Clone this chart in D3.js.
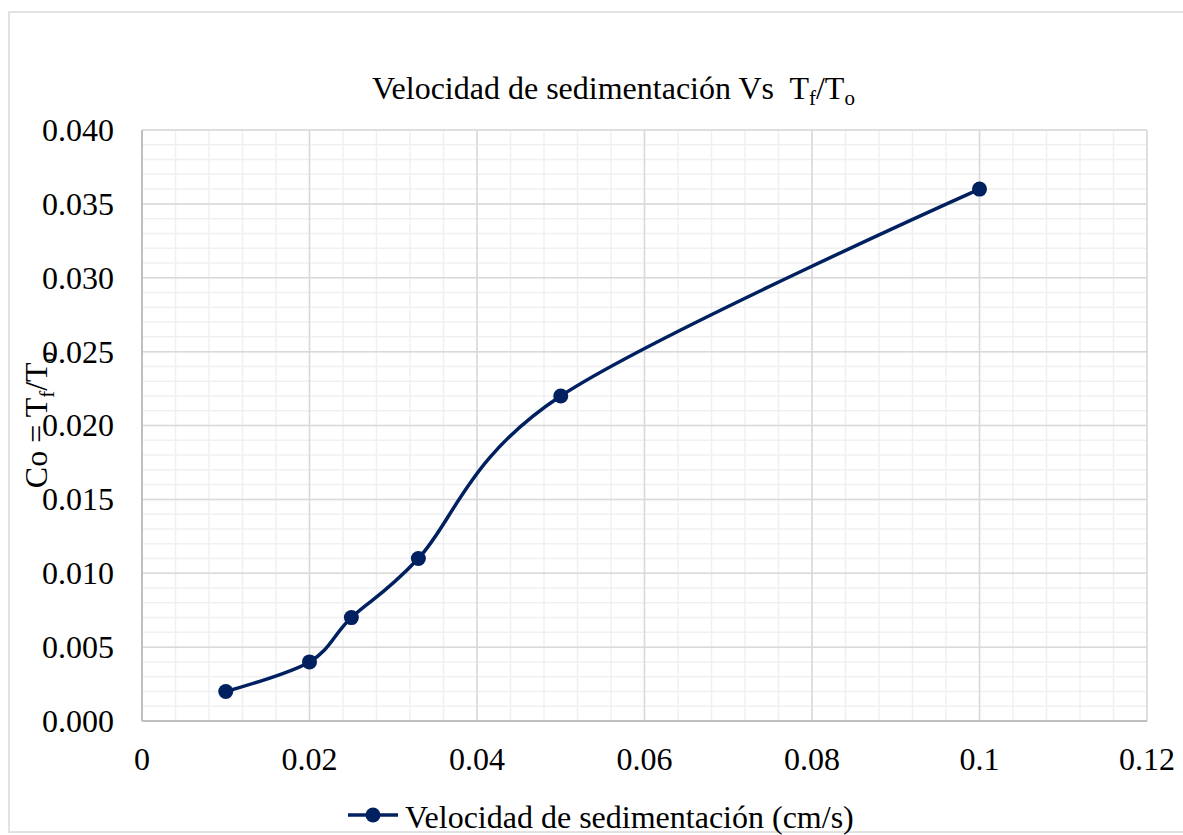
<!DOCTYPE html>
<meta charset="utf-8">
<script src="https://d3js.org/d3.v7.min.js"></script>
<style>
body { margin: 0; background: #fff; }
</style>
<div id="my_dataviz"></div>
<script>

// data
var velocidad = [0.01, 0.02, 0.025, 0.033, 0.05, 0.1];   // cm/s
var co = [0.002, 0.004, 0.007, 0.011, 0.022, 0.036];     // Tf/To
var xTicks = [0, 0.02, 0.04, 0.06, 0.08, 0.1, 0.12];
var xTickLabels = ["0", "0.02", "0.04", "0.06", "0.08", "0.1", "0.12"];
var yTicks = [0, 0.005, 0.01, 0.015, 0.02, 0.025, 0.03, 0.035, 0.04];
var yTickLabels = ["0.000", "0.005", "0.010", "0.015", "0.020", "0.025", "0.030", "0.035", "0.040"];
var seriesName = "Velocidad de sedimentación (cm/s)";

var W = 1183, H = 835;
var margin = {top: 130, right: 36, bottom: 114, left: 142},
    width = W - margin.left - margin.right,
    height = H - margin.top - margin.bottom;

var lineColor = "#002060";
var serif = "'Liberation Serif', 'Times New Roman', 'DejaVu Serif', serif";

var root = d3.select("#my_dataviz")
  .append("svg")
    .attr("width", W)
    .attr("height", H)
    .style("font-family", serif);

// chart border
root.append("rect")
  .attr("x", 9).attr("y", 12)
  .attr("width", W + 10).attr("height", 820)
  .attr("fill", "none")
  .attr("stroke", "#d9d9d9")
  .attr("stroke-width", 1.5);

var svg = root.append("g")
  .attr("transform", "translate(" + margin.left + "," + margin.top + ")");

var x = d3.scaleLinear().domain([0, 0.12]).range([0, width]);
var y = d3.scaleLinear().domain([0, 0.04]).range([height, 0]);

// minor grid
var xMinor = d3.range(0, 31).map(function(i) { return i * 0.004; });
var yMinor = d3.range(0, 41).map(function(i) { return i * 0.001; });

svg.append("g").selectAll("line")
  .data(xMinor).enter().append("line")
    .attr("x1", function(d) { return x(d); }).attr("x2", function(d) { return x(d); })
    .attr("y1", 0).attr("y2", height)
    .attr("stroke", "#f0f0f0").attr("stroke-width", 1.5);

svg.append("g").selectAll("line")
  .data(yMinor).enter().append("line")
    .attr("y1", function(d) { return y(d); }).attr("y2", function(d) { return y(d); })
    .attr("x1", 0).attr("x2", width)
    .attr("stroke", "#f0f0f0").attr("stroke-width", 1.5);

// major grid
svg.append("g").selectAll("line")
  .data(xTicks).enter().append("line")
    .attr("x1", function(d) { return x(d); }).attr("x2", function(d) { return x(d); })
    .attr("y1", 0).attr("y2", height)
    .attr("stroke", "#d9d9d9").attr("stroke-width", 1.5);

svg.append("g").selectAll("line")
  .data(yTicks).enter().append("line")
    .attr("y1", function(d) { return y(d); }).attr("y2", function(d) { return y(d); })
    .attr("x1", 0).attr("x2", width)
    .attr("stroke", "#d9d9d9").attr("stroke-width", 1.5);

// axes lines
svg.append("line")
  .attr("x1", 0).attr("x2", width).attr("y1", height).attr("y2", height)
  .attr("stroke", "#bfbfbf").attr("stroke-width", 2);
svg.append("line")
  .attr("x1", 0).attr("x2", 0).attr("y1", 0).attr("y2", height)
  .attr("stroke", "#bfbfbf").attr("stroke-width", 2);

// tick labels
svg.append("g").selectAll("text")
  .data(xTicks).enter().append("text")
    .attr("x", function(d) { return x(d); })
    .attr("y", height + 49)
    .attr("text-anchor", "middle")
    .style("font-size", "32px")
    .text(function(d, i) { return xTickLabels[i]; });

svg.append("g").selectAll("text")
  .data(yTicks).enter().append("text")
    .attr("x", -28)
    .attr("y", function(d) { return y(d); })
    .attr("dy", "0.34em")
    .attr("text-anchor", "end")
    .style("font-size", "32px")
    .text(function(d, i) { return yTickLabels[i]; });

// the series
var data = velocidad.map(function(v, i) { return {x: v, y: co[i]}; });

svg.append("path")
  .datum(data)
  .attr("fill", "none")
  .attr("stroke", lineColor)
  .attr("stroke-width", 3.5)
  .attr("stroke-linejoin", "round")
  .attr("d", d3.line()
    .curve(d3.curveCardinal.tension(0))
    .x(function(d) { return x(d.x); })
    .y(function(d) { return y(d.y); }));

svg.append("g").selectAll("circle")
  .data(data).enter().append("circle")
    .attr("cx", function(d) { return x(d.x); })
    .attr("cy", function(d) { return y(d.y); })
    .attr("r", 7.5)
    .attr("fill", lineColor);

// title
var title = root.append("text")
  .attr("x", 372).attr("y", 99)
  .style("font-size", "32px");
title.append("tspan").text("Velocidad de sedimentación Vs\u00a0 T");
title.append("tspan").attr("dy", 6).style("font-size", "21px").text("f");
title.append("tspan").attr("dy", -6).text("/T");
title.append("tspan").attr("dy", 6).style("font-size", "21px").text("o");

// y axis title
var ytitle = root.append("text")
  .attr("transform", "translate(47,420) rotate(-90)")
  .attr("text-anchor", "middle")
  .style("font-size", "32px");
ytitle.append("tspan").text("Co = T");
ytitle.append("tspan").attr("dy", 7).style("font-size", "21px").text("f");
ytitle.append("tspan").attr("dy", -7).text("/T");
ytitle.append("tspan").attr("dy", 7).style("font-size", "21px").text("o");

// legend
var leg = root.append("g").attr("transform", "translate(348,815)");
leg.append("line")
  .attr("x1", 0).attr("x2", 50).attr("y1", 0).attr("y2", 0)
  .attr("stroke", lineColor).attr("stroke-width", 3.5);
leg.append("circle").attr("cx", 25).attr("cy", 0).attr("r", 7.5).attr("fill", lineColor);
leg.append("text")
  .attr("x", 57).attr("y", 13)
  .style("font-size", "32px")
  .text(seriesName);

</script>
